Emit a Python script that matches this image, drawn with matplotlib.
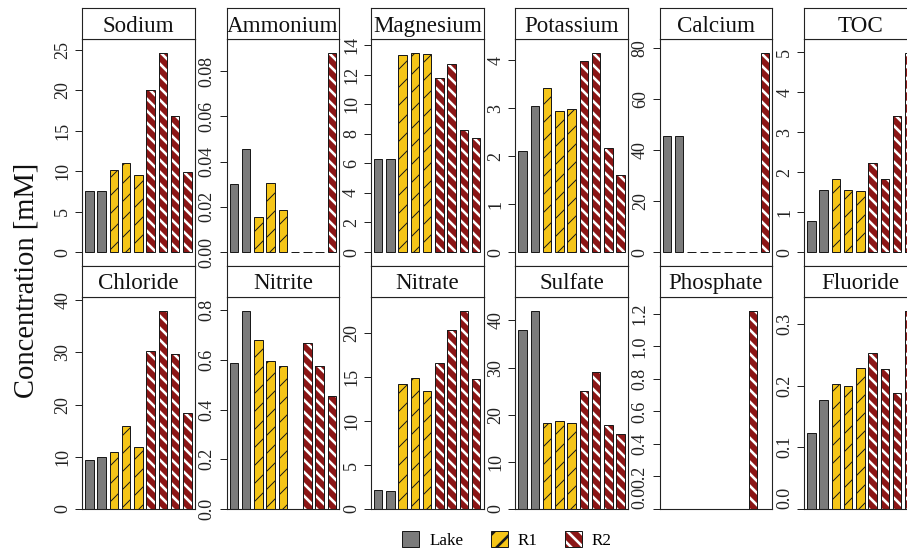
import matplotlib
matplotlib.use("Agg")
import matplotlib.pyplot as plt
from matplotlib.patches import Patch
from matplotlib.legend_handler import HandlerTuple
import numpy as np

DPI = 108
W, H = 907, 556


def pt(px):
    # pixel size -> points at the figure dpi
    return px * 72.0 / DPI


# sample groups (2 lake, 3 R1, 4 R2)
groups = ["Lake", "Lake", "R1", "R1", "R1", "R2", "R2", "R2", "R2"]

sodium = [7.5, 7.6, 10.1, 11.05, 9.5, 20.0, 24.6, 16.8, 9.9]
ammonium = [0.0301, 0.0457, 0.0154, 0.0306, 0.0187, 0.0, 0.0, 0.0, 0.088]
magnesium = [6.28, 6.28, 13.3, 13.44, 13.37, 11.75, 12.74, 8.26, 7.7]
potassium = [2.11, 3.05, 3.43, 2.95, 2.98, 3.98, 4.15, 2.18, 1.61]
calcium = [45.3, 45.4, 0.0, 0.0, 0.0, 0.0, 0.0, 0.0, 77.9]
toc = [0.78, 1.54, 1.82, 1.54, 1.53, 2.23, 1.82, 3.39, 4.97]
chloride = [9.36, 9.94, 10.9, 15.9, 11.97, 30.25, 38.0, 29.7, 18.3]
nitrite = [0.587, 0.799, 0.68, 0.594, 0.575, 0.0, 0.669, 0.574, 0.455]
nitrate = [2.12, 2.08, 14.28, 14.89, 13.45, 16.63, 20.34, 22.6, 14.77]
sulfate = [38.0, 42.1, 18.3, 18.66, 18.3, 25.0, 29.0, 17.9, 15.9]
phosphate = [0.0, 0.0, 0.0, 0.0, 0.0, 0.0, 0.0, 1.22, 0.0]
fluoride = [0.1236, 0.1765, 0.203, 0.199, 0.228, 0.253, 0.227, 0.188, 0.3216]

# (title, values, tick step, label format)
row1 = [
    ("Sodium", sodium, 5, "%d"),
    ("Ammonium", ammonium, 0.02, "%.2f"),
    ("Magnesium", magnesium, 2, "%d"),
    ("Potassium", potassium, 1, "%d"),
    ("Calcium", calcium, 20, "%d"),
    ("TOC", toc, 1, "%d"),
]
row2 = [
    ("Chloride", chloride, 10, "%d"),
    ("Nitrite", nitrite, 0.2, "%.1f"),
    ("Nitrate", nitrate, 5, "%d"),
    ("Sulfate", sulfate, 10, "%d"),
    ("Phosphate", phosphate, 0.2, "%.1f"),
    ("Fluoride", fluoride, 0.1, "%.1f"),
]

COLORS = {"Lake": "#7b7b7b", "R1": "#f5c518", "R2": "#8b1616"}
EDGE = "#1a1a1a"
FONT = "Liberation Serif"
R1_HATCH_LW = pt(1.0)
R2_HATCH_LW = pt(2.6)

plt.rcParams["font.family"] = FONT
plt.rcParams["hatch.linewidth"] = R2_HATCH_LW

fig = plt.figure(figsize=(W / DPI, H / DPI), dpi=DPI)

LEFT0, PITCH, PW = 82.2, 144.4, 112.5
ROWS = [  # strip top, strip bottom, panel bottom, pad below zero
    (8.3, 39.3, 266.0, 0.07),
    (266.0, 296.7, 509.0, 0.0),
]


def px_axes(x0, y0, x1, y1):
    return fig.add_axes([x0 / W, 1 - y1 / H, (x1 - x0) / W, (y1 - y0) / H])


def draw_bars(ax, vals):
    x = np.arange(len(vals))
    vals = np.asarray(vals)
    g = np.array(groups)
    bw = 0.69
    m = g == "Lake"
    ax.bar(x[m], vals[m], bw, color=COLORS["Lake"], edgecolor=EDGE,
           linewidth=pt(1), zorder=2)
    m = g == "R1"
    with plt.rc_context({"hatch.linewidth": R1_HATCH_LW}):
        ax.bar(x[m], vals[m], bw, color=COLORS["R1"], edgecolor=EDGE,
               hatch="//", linewidth=pt(1), zorder=2)
    m = g == "R2"
    ax.bar(x[m], vals[m], bw, color=COLORS["R2"], edgecolor="white",
           hatch="\\\\\\", linewidth=0, zorder=2)
    ax.bar(x[m], vals[m], bw, fill=False, edgecolor=EDGE,
           linewidth=pt(1), zorder=3)
    ax.set_xlim(-0.588, 8.596)


for (s_top, s_bot, p_bot, pad), panels in zip(ROWS, [row1, row2]):
    for i, (title, vals, step, fmt) in enumerate(panels):
        x0 = LEFT0 + i * PITCH
        x1 = x0 + PW
        ax = px_axes(x0, s_bot, x1, p_bot)
        draw_bars(ax, vals)
        top = max(vals) * 1.07
        ax.set_ylim(-pad * max(vals), top)
        ticks = np.arange(0, top + 1e-12, step)
        ax.set_yticks(ticks)
        ax.set_yticklabels([fmt % t for t in ticks], rotation=90,
                           va="center", fontsize=pt(18), color="#222")
        if title in ("Phosphate", "Fluoride"):
            ax.get_yticklabels()[0].set_va("bottom")
        ax.set_xticks([])
        ax.tick_params(axis="y", length=pt(7), width=pt(1), pad=pt(4),
                       color="#222")
        for sp in ax.spines.values():
            sp.set_linewidth(pt(1.1))
            sp.set_color("#222")

        sx = px_axes(x0, s_top, x1, s_bot)
        sx.set_xticks([])
        sx.set_yticks([])
        for sp in sx.spines.values():
            sp.set_linewidth(pt(1.1))
            sp.set_color("#222")
        sx.text(0.5, 0.42, title, transform=sx.transAxes, ha="center",
                va="center", fontsize=pt(23), color="#111")

fig.text(27 / W, 1 - 280 / H, "Concentration [mM]", rotation=90,
         ha="center", va="center", fontsize=pt(28.5), color="#111")

lake_h = Patch(facecolor=COLORS["Lake"], edgecolor=EDGE, linewidth=pt(1))
with plt.rc_context({"hatch.linewidth": R1_HATCH_LW}):
    r1_h = Patch(facecolor=COLORS["R1"], edgecolor=EDGE, hatch="//",
                 linewidth=pt(1))
r2_fill = Patch(facecolor=COLORS["R2"], edgecolor="white", hatch="\\\\\\",
                linewidth=0)
r2_edge = Patch(fill=False, edgecolor=EDGE, linewidth=pt(1))

fig.legend(handles=[lake_h, r1_h, (r2_fill, r2_edge)],
           labels=["Lake", "R1", "R2"],
           handler_map={tuple: HandlerTuple(ndivide=1, pad=0)},
           loc="center", bbox_to_anchor=(507 / W, 1 - 540 / H), ncol=3,
           frameon=False, fontsize=pt(17), handlelength=1.0,
           handleheight=1.0, handletextpad=0.6, columnspacing=1.6)

fig.savefig("out.png", dpi=DPI)
